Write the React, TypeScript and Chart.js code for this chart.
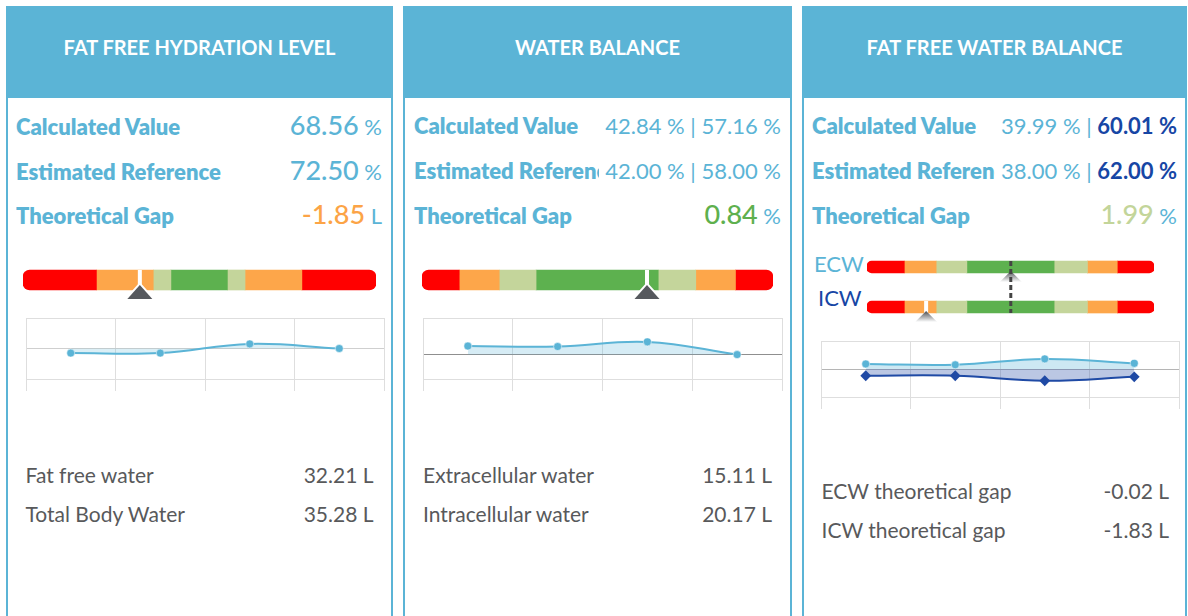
import React, { useEffect, useRef } from "react";
import { Chart, registerables } from "chart.js";

Chart.register(...registerables);

// ---------------- data ----------------
const panelTitles = ["FAT FREE HYDRATION LEVEL", "WATER BALANCE", "FAT FREE WATER BALANCE"];
const rowLabels = ["Calculated Value", "Estimated Reference", "Theoretical Gap"];

const ffhValues = ["68.56", "72.50", "-1.85"];
const ffhUnits = ["%", "%", "L"];
const wbEcwPct = ["42.84", "42.00"];
const wbIcwPct = ["57.16", "58.00"];
const wbGap = "0.84";
const ffwEcwPct = ["39.99", "38.00"];
const ffwIcwPct = ["60.01", "62.00"];
const ffwGap = "1.99";

const ffhDetailLabels = ["Fat free water", "Total Body Water"];
const ffhDetailValues = ["32.21 L", "35.28 L"];
const wbDetailLabels = ["Extracellular water", "Intracellular water"];
const wbDetailValues = ["15.11 L", "20.17 L"];
const ffwDetailLabels = ["ECW theoretical gap", "ICW theoretical gap"];
const ffwDetailValues = ["-0.02 L", "-1.83 L"];

const gaugeColors = ["#ff0000", "#fda64a", "#c4d59b", "#5db14f", "#c4d59b", "#fda64a", "#ff0000"];
const ffhGaugeBands = [20.8, 16.1, 5.0, 16.0, 5.0, 16.1, 21.0];
const ffhMarker = [33.1];
const wbGaugeBands = [10.6, 11.4, 10.5, 34.8, 10.7, 11.3, 10.7];
const wbMarker = [64.1];
const ffwGaugeRows = ["ECW", "ICW"];
const ffwGaugeBands = [13.0, 11.1, 10.7, 30.4, 11.6, 10.4, 12.8];
const ffwMarkers = [50.1, 20.6];

const trendLabels = ["T1", "T2", "T3", "T4"];
const ffhTrend = [-0.15, -0.15, 0.15, 0.0];
const wbTrend = [0.35, 0.33, 0.52, 0.0];
const ecwTrend = [0.18, 0.15, 0.36, 0.2];
const icwTrend = [-0.24, -0.24, -0.42, -0.28];

// ---------------- style ----------------
const W = 1188;
const FONT = "Lato, 'Open Sans', sans-serif";
const BLUE = "#5bb4d6";
const DARK_BLUE = "#1746a5";
const ORANGE = "#fca446";
const GREEN = "#5eb04e";
const LIGHT_GREEN = "#c3d59a";
const GRAY_TEXT = "#58595b";
const GRID = "#dedede";

const ASC = 0.987;
const CONTENT = 1.2;
const above = (f: number, lh: number) => (lh - CONTENT * f) / 2 + ASC * f;

function Txt(props: any) {
  const { x, xr, base, size, weight = 400, color, children, center, width } = props;
  const lh = size * CONTENT;
  const st: any = {
    position: "absolute",
    top: base - above(size, lh),
    fontSize: size,
    lineHeight: lh + "px",
    fontWeight: weight,
    color,
    whiteSpace: "nowrap",
    fontFamily: FONT,
  };
  if (center) {
    st.left = x;
    st.width = width;
    st.textAlign = "center";
  } else if (xr !== undefined) st.right = W - xr;
  else st.left = x;
  return <div style={st}>{children}</div>;
}

function ValueRow(props: any) {
  const { left, right, base, label, big, children } = props;
  const LH = 30;
  const a = big ? above(27, LH) : above(22, LH);
  return (
    <div
      style={{
        position: "absolute",
        left,
        width: right - left,
        top: base - a,
        display: "flex",
        alignItems: "baseline",
        fontFamily: FONT,
        whiteSpace: "nowrap",
      }}
    >
      <div
        style={{
          flex: "1 1 auto",
          minWidth: 0,
          overflow: "hidden",
          fontSize: 22,
          lineHeight: LH + "px",
          fontWeight: 800,
          color: BLUE,
        }}
      >
        {label}
      </div>
      <div style={{ flex: "0 0 auto", paddingLeft: 6, fontSize: 22, lineHeight: LH + "px", color: BLUE }}>
        {children}
      </div>
    </div>
  );
}

const gaugeMarkerPlugin = {
  id: "gaugeMarker",
  afterDatasetsDraw(chart: any, _args: any, opts: any) {
    const { ctx } = chart;
    const xs = chart.scales.x;
    const meta = chart.getDatasetMeta(0);
    const markers: number[] = opts.markers || [];
    ctx.save();
    markers.forEach((m, i) => {
      const el: any = meta.data[i];
      if (!el) return;
      const half = el.height / 2;
      const top = el.y - half;
      const bottom = el.y + half;
      const px = xs.getPixelForValue(m);
      if (opts.variant === "big") {
        ctx.fillStyle = "#ffffff";
        ctx.fillRect(px - 2, top, 4, bottom - top);
        ctx.beginPath();
        ctx.moveTo(px, bottom - 5);
        ctx.lineTo(px + 12.5, bottom + 9);
        ctx.lineTo(px - 12.5, bottom + 9);
        ctx.closePath();
        ctx.lineJoin = "round";
        ctx.strokeStyle = "#ffffff";
        ctx.lineWidth = 4;
        ctx.stroke();
        ctx.fillStyle = "#56595e";
        ctx.fill();
      } else {
        if (i !== 0) {
          ctx.fillStyle = "#ffffff";
          ctx.fillRect(px - 2, top, 4, bottom - top);
        }
        const g = ctx.createLinearGradient(0, bottom - 1, 0, bottom + 9);
        g.addColorStop(0, "rgba(80,83,88,0.95)");
        g.addColorStop(1, "rgba(80,83,88,0)");
        ctx.beginPath();
        ctx.moveTo(px, bottom - 2);
        ctx.lineTo(px + 12, bottom + 10);
        ctx.lineTo(px - 12, bottom + 10);
        ctx.closePath();
        ctx.fillStyle = g;
        ctx.fill();
      }
    });
    if (opts.variant === "small" && markers.length) {
      const first: any = meta.data[0];
      const last: any = meta.data[meta.data.length - 1];
      const px = xs.getPixelForValue(markers[0]);
      ctx.beginPath();
      ctx.setLineDash([5, 3]);
      ctx.strokeStyle = "#444444";
      ctx.lineWidth = 3;
      ctx.moveTo(px, first.y - first.height / 2);
      ctx.lineTo(px, last.y + last.height / 2);
      ctx.stroke();
    }
    ctx.restore();
  },
};

function Gauge(props: any) {
  const { left, top, width, height, pad, rows, bands, markers, thickness, radius, variant } = props;
  const ref = useRef<HTMLCanvasElement>(null);
  useEffect(() => {
    const total = bands.reduce((a: number, b: number) => a + b, 0);
    const n = bands.length;
    const datasets = bands.map((v: number, i: number) => ({
      data: rows.map(() => v),
      backgroundColor: gaugeColors[i],
      borderWidth: 0,
      borderSkipped: false,
      borderRadius:
        i === 0
          ? { topLeft: radius, bottomLeft: radius, topRight: 0, bottomRight: 0 }
          : i === n - 1
          ? { topLeft: 0, bottomLeft: 0, topRight: radius, bottomRight: radius }
          : 0,
      barThickness: thickness,
    }));
    const chart = new Chart(ref.current as HTMLCanvasElement, {
      type: "bar",
      data: { labels: rows, datasets },
      options: {
        indexAxis: "y",
        animation: false,
        responsive: false,
        layout: { padding: pad },
        plugins: {
          legend: { display: false },
          tooltip: { enabled: false },
          gaugeMarker: { markers, variant },
        } as any,
        scales: {
          x: { stacked: true, min: 0, max: total, display: false },
          y: { stacked: true, display: false },
        },
      },
      plugins: [gaugeMarkerPlugin],
    } as any);
    return () => chart.destroy();
  }, []);
  return (
    <canvas
      ref={ref}
      width={width}
      height={height}
      style={{ position: "absolute", left, top, width, height, display: "block" }}
    />
  );
}

function TrendChart(props: any) {
  const { left, top, width, height, datasets, yMin, yMax, yTicks, zeroColor } = props;
  const ref = useRef<HTMLCanvasElement>(null);
  useEffect(() => {
    const chart = new Chart(ref.current as HTMLCanvasElement, {
      type: "line",
      data: { labels: trendLabels, datasets },
      options: {
        animation: false,
        responsive: false,
        layout: { padding: { left: 6, right: 6, top: 6, bottom: 7 } },
        plugins: { legend: { display: false }, tooltip: { enabled: false } },
        elements: { line: { tension: 0.4 } },
        scales: {
          x: {
            offset: true,
            grid: { offset: true, color: GRID, tickLength: 12 },
            border: { color: GRID },
            ticks: { display: false },
          },
          y: {
            min: yMin,
            max: yMax,
            afterBuildTicks: (axis: any) => {
              axis.ticks = yTicks.map((v: number) => ({ value: v }));
            },
            grid: {
              drawTicks: false,
              color: (c: any) => (c.tick && c.tick.value === 0 ? zeroColor : GRID),
            },
            border: { color: GRID },
            ticks: { display: false },
          },
        },
      },
    } as any);
    return () => chart.destroy();
  }, []);
  return (
    <canvas
      ref={ref}
      width={width}
      height={height}
      style={{ position: "absolute", left, top, width, height, display: "block" }}
    />
  );
}

const lightSeries = (data: number[], bg: string) => ({
  data,
  borderColor: BLUE,
  backgroundColor: bg,
  fill: "origin",
  borderWidth: 2,
  pointRadius: 4,
  pointBackgroundColor: BLUE,
  pointBorderColor: "rgba(255,255,255,0.5)",
  pointBorderWidth: 1,
});

const panels = [
  { left: 6, right: 393 },
  { left: 403, right: 792 },
  { left: 802, right: 1187 },
];

function Frame({ p, title }: any) {
  return (
    <>
      <div
        style={{
          position: "absolute",
          left: p.left,
          top: 6,
          width: p.right - p.left,
          height: 640,
          borderLeft: "2px solid " + BLUE,
          borderRight: "2px solid " + BLUE,
          boxSizing: "border-box",
        }}
      />
      <div
        style={{
          position: "absolute",
          left: p.left,
          top: 6,
          width: p.right - p.left,
          height: 92,
          background: BLUE,
        }}
      />
      <Txt x={p.left} width={p.right - p.left} center base={55} size={20} weight={700} color="#ffffff">
        {title}
      </Txt>
    </>
  );
}

const ROW_BASES = [135, 180, 224.5];

export default function App() {
  const [p1, p2, p3] = panels;
  const big = (v: string, color: string) => (
    <span style={{ fontSize: 27, color, fontWeight: 500 }}>{v}</span>
  );
  return (
    <div
      style={{
        position: "absolute",
        left: 0,
        top: 0,
        width: W,
        height: 616,
        overflow: "hidden",
        background: "#ffffff",
        fontFamily: FONT,
      }}
    >
      {panels.map((p, i) => (
        <Frame key={i} p={p} title={panelTitles[i]} />
      ))}

      {/* Panel 1 */}
      {rowLabels.map((lab, i) => (
        <ValueRow key={"a" + i} left={p1.left + 10} right={p1.right - 11} base={ROW_BASES[i]} label={lab} big>
          {big(ffhValues[i], i === 2 ? ORANGE : BLUE)}
          {" " + ffhUnits[i]}
        </ValueRow>
      ))}
      <Gauge
        left={20}
        top={262}
        width={359}
        height={40}
        pad={{ left: 3, right: 3, top: 0, bottom: 4 }}
        rows={["FFH"]}
        bands={ffhGaugeBands}
        markers={ffhMarker}
        thickness={20}
        radius={7}
        variant="big"
      />
      <TrendChart
        left={20}
        top={312}
        width={370}
        height={86}
        datasets={[lightSeries(ffhTrend, "rgba(91,180,214,0.22)")]}
        yMin={-1}
        yMax={1}
        yTicks={[-1, 0, 1]}
        zeroColor="#cfcfcf"
      />
      {ffhDetailLabels.map((l, i) => (
        <React.Fragment key={"d1" + i}>
          <Txt x={p1.left + 19.5} base={482.3 + i * 39.4} size={21} color={GRAY_TEXT}>
            {l}
          </Txt>
          <Txt xr={p1.right - 19.5} base={482.3 + i * 39.4} size={21} color={GRAY_TEXT}>
            {ffhDetailValues[i]}
          </Txt>
        </React.Fragment>
      ))}

      {/* Panel 2 */}
      {[0, 1].map((i) => (
        <ValueRow key={"b" + i} left={p2.left + 11} right={p2.right - 11} base={ROW_BASES[i]} label={rowLabels[i]}>
          {wbEcwPct[i] + " % | " + wbIcwPct[i] + " %"}
        </ValueRow>
      ))}
      <ValueRow left={p2.left + 11} right={p2.right - 11} base={ROW_BASES[2]} label={rowLabels[2]} big>
        {big(wbGap, GREEN)}
        {" %"}
      </ValueRow>
      <Gauge
        left={419}
        top={262}
        width={357}
        height={40}
        pad={{ left: 3, right: 3, top: 0, bottom: 4 }}
        rows={["WB"]}
        bands={wbGaugeBands}
        markers={wbMarker}
        thickness={20}
        radius={7}
        variant="big"
      />
      <TrendChart
        left={417}
        top={312}
        width={371}
        height={86}
        datasets={[lightSeries(wbTrend, "rgba(91,180,214,0.25)")]}
        yMin={-1}
        yMax={1.5}
        yTicks={[-1, 0, 1.5]}
        zeroColor="#8f8f8f"
      />
      {wbDetailLabels.map((l, i) => (
        <React.Fragment key={"d2" + i}>
          <Txt x={p2.left + 20} base={482.3 + i * 39.4} size={21} color={GRAY_TEXT}>
            {l}
          </Txt>
          <Txt xr={p2.right - 20} base={482.3 + i * 39.4} size={21} color={GRAY_TEXT}>
            {wbDetailValues[i]}
          </Txt>
        </React.Fragment>
      ))}

      {/* Panel 3 */}
      {[0, 1].map((i) => (
        <ValueRow key={"c" + i} left={p3.left + 10} right={p3.right - 10} base={ROW_BASES[i]} label={rowLabels[i]}>
          {ffwEcwPct[i] + " % | "}
          <span style={{ color: DARK_BLUE, fontWeight: 700 }}>{ffwIcwPct[i] + " %"}</span>
        </ValueRow>
      ))}
      <ValueRow left={p3.left + 10} right={p3.right - 10} base={ROW_BASES[2]} label={rowLabels[2]} big>
        {big(ffwGap, LIGHT_GREEN)}
        {" %"}
      </ValueRow>
      <Txt x={814} base={272.3} size={22} color={BLUE}>
        ECW
      </Txt>
      <Txt x={818} base={306.7} size={22} color={DARK_BLUE}>
        ICW
      </Txt>
      <Gauge
        left={864}
        top={247}
        width={293}
        height={82}
        pad={{ left: 3, right: 3, top: 0, bottom: 2 }}
        rows={ffwGaugeRows}
        bands={ffwGaugeBands}
        markers={ffwMarkers}
        thickness={12}
        radius={5}
        variant="small"
      />
      <TrendChart
        left={815}
        top={335}
        width={370}
        height={81}
        datasets={[
          lightSeries(ecwTrend, "rgba(91,180,214,0.3)"),
          {
            data: icwTrend,
            borderColor: "#1f4aa5",
            backgroundColor: "rgba(60,95,175,0.35)",
            fill: "origin",
            borderWidth: 2,
            pointStyle: "rectRot",
            pointRadius: 4,
            pointBackgroundColor: "#1f4aa5",
            pointBorderColor: "#1f4aa5",
          },
        ]}
        yMin={-1}
        yMax={1}
        yTicks={[-1, 0, 1]}
        zeroColor="#b5b5b5"
      />
      {ffwDetailLabels.map((l, i) => (
        <React.Fragment key={"d3" + i}>
          <Txt x={p3.left + 19.5} base={498.3 + i * 39} size={21} color={GRAY_TEXT}>
            {l}
          </Txt>
          <Txt xr={p3.right - 18} base={498.3 + i * 39} size={21} color={GRAY_TEXT}>
            {ffwDetailValues[i]}
          </Txt>
        </React.Fragment>
      ))}
    </div>
  );
}
